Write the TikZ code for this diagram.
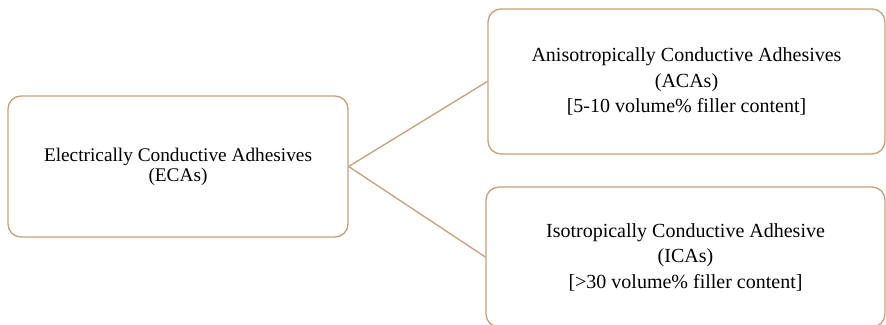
\documentclass[tikz,border=0pt]{standalone}
\usepackage{fontspec}
\setmainfont{Liberation Serif}
\definecolor{tan}{RGB}{200,160,118}
\begin{document}
\begin{tikzpicture}[x=1pt,y=-1pt,
  box/.style={draw=tan, line width=1.3pt, rounded corners=13pt, align=center, inner sep=0pt, fill=white},
  conn/.style={draw=tan, line width=1.3pt}]
\useasboundingbox (0,0) rectangle (886,324);
\clip (0,0) rectangle (886,324);
\node[box, minimum width=340pt, minimum height=141pt, font=\fontsize{19.3}{20}\selectfont] (L) at (178,166.5)
  {Electrically Conductive Adhesives\\(ECAs)};
\node[box, minimum width=397pt, minimum height=145pt, font=\fontsize{20}{25.5}\selectfont] (T) at (686.5,81.5)
  {Anisotropically Conductive Adhesives\\(ACAs)\\{}[5-10 volume\% filler content]};
\node[box, minimum width=399pt, minimum height=140pt, font=\fontsize{20}{25.5}\selectfont] (B) at (685.5,257)
  {Isotropically Conductive Adhesive\\(ICAs)\\{}[>30 volume\% filler content]};
\draw[conn] (L.east) -- (T.west);
\draw[conn] (L.east) -- (B.west);
\end{tikzpicture}
\end{document}
